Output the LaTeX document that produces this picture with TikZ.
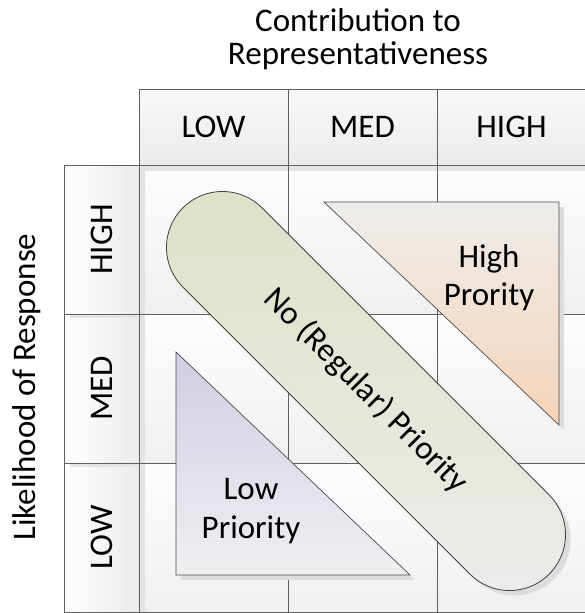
\documentclass[tikz,border=0pt]{standalone}
\usepackage{fontspec}
\setmainfont{Carlito}
\definecolor{gridline}{HTML}{5F5F5F}
\definecolor{hdrtop}{HTML}{F8F8F8}
\definecolor{hdrbot}{HTML}{EBEBEB}
\definecolor{celltop}{HTML}{FDFDFD}
\definecolor{cellbot}{HTML}{F0F0F0}
\definecolor{bandgray}{HTML}{E4E4E4}
\definecolor{hitop}{HTML}{EEEDEC}
\definecolor{hibot}{HTML}{F6D3B7}
\definecolor{lotop}{HTML}{D2CDE2}
\definecolor{lobot}{HTML}{EFEFF1}
\definecolor{pillgreen}{HTML}{DBE2C5}
\definecolor{pillgray}{HTML}{ECECEC}
\definecolor{shadowgray}{HTML}{DCDCDC}
\begin{document}
\begin{tikzpicture}[x=1pt,y=-1pt,
  every node/.style={font=\fontsize{33}{33}\selectfont, inner sep=0pt, text=black},
  gline/.style={draw=gridline, line width=0.9pt},
  hdrcell/.style={top color=hdrtop, bottom color=hdrbot},
  lblcell/.style={left color=white, right color=hdrbot},
  gridcell/.style={top color=celltop, bottom color=cellbot},
  band/.style={fill=bandgray},
  shadowfill/.style={fill=shadowgray},
  tri/.style={draw=black!70, line width=0.7pt},
  pillshape/.style={rectangle, rounded corners=56pt, minimum width=518pt, minimum height=112pt, rotate=-45}
]
\useasboundingbox (0,0) rectangle (584,613);
\fill[white] (0,0) rectangle (584,613);

% header cells
\path[hdrcell] (139,89) rectangle (288,165);
\path[hdrcell] (288,89) rectangle (437,165);
\path[hdrcell] (437,89) rectangle (586,165);
% row label cells
\path[lblcell] (64,165) rectangle (139,314);
\path[lblcell] (64,314) rectangle (139,463);
\path[lblcell] (64,463) rectangle (139,612);
% grid cells
\foreach \x in {139,288,437} {
  \foreach \y in {165,314,463} {
    \path[gridcell] (\x,\y) rectangle ++(149,149);
  }
}
% shadow bands
\path[band] (139,165) rectangle (586,171);
\path[band] (139,165) rectangle (145,612);
\path[band] (70,314) rectangle (138,318);
\path[band] (70,463) rectangle (138,467);

% grid lines
\draw[gline] (139,89) -- (586,89);
\draw[gline] (64,165) -- (586,165);
\draw[gline] (64,314) -- (586,314);
\draw[gline] (64,463) -- (586,463);
\draw[gline] (64,612) -- (586,612);
\draw[gline] (64,165) -- (64,612);
\draw[gline] (139,89) -- (139,612);
\draw[gline] (288,89) -- (288,612);
\draw[gline] (437,89) -- (437,612);

% triangle shadows
\path[shadowfill] (329,207) -- (564,207) -- (564,430) -- cycle;
\path[shadowfill] (181,357) -- (181,580) -- (415,580) -- cycle;
% high priority triangle
\shade[top color=hitop, bottom color=hibot] (324,202) -- (559,202) -- (559,425) -- cycle;
\draw[tri] (324,202) -- (559,202) -- (559,425) -- cycle;
% low priority triangle
\shade[top color=lotop, bottom color=lobot] (176,352) -- (176,575) -- (410,575) -- cycle;
\draw[tri] (176,352) -- (176,575) -- (410,575) -- cycle;

% pill shadow
\node[pillshape, fill=shadowgray] (pillshadow) at (371,396) {};
% pill
\node[pillshape, draw=black!75, line width=0.8pt, top color=pillgreen, bottom color=pillgray] (pill) at (366,391) {No (Regular) Priority};

% titles
\node[anchor=base] (t1) at (358,31) {Contribution to};
\node[anchor=base] (t2) at (358,64) {Representativeness};
\node[anchor=base, rotate=90] (ylab) at (35,387) {Likelihood of Response};

% header labels
\node (clow) at (213.5,127) {LOW};
\node (cmed) at (362.5,127) {MED};
\node (chigh) at (511.5,127) {HIGH};
% row labels
\node[rotate=90] (rhigh) at (101.5,239.5) {HIGH};
\node[rotate=90] (rmed) at (101.5,388.5) {MED};
\node[rotate=90] (rlow) at (101.5,537.5) {LOW};

% triangle labels
\node[anchor=base] (hp1) at (489,267) {High};
\node[anchor=base] (hp2) at (489,305) {Prority};
\node[anchor=base] (lp1) at (251,499) {Low};
\node[anchor=base] (lp2) at (251,538) {Priority};
\end{tikzpicture}
\end{document}
